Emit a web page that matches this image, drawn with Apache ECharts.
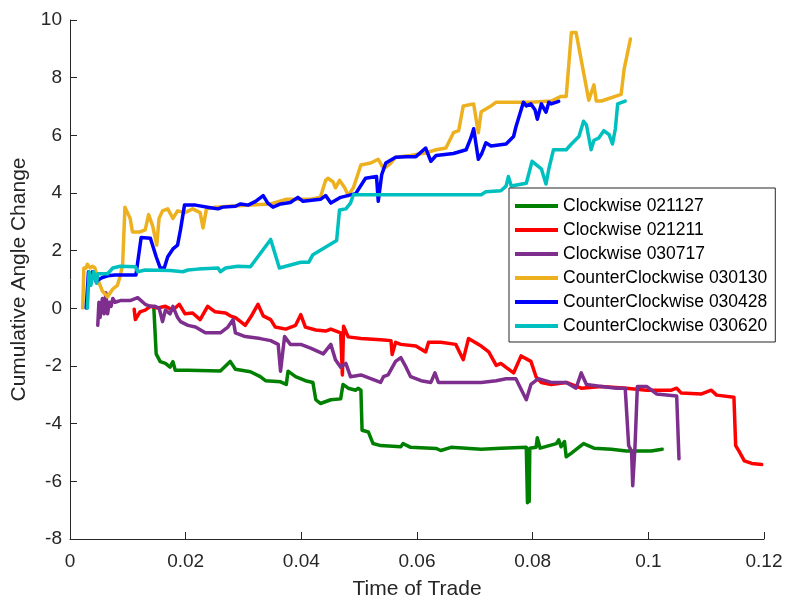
<!DOCTYPE html>
<html>
<head>
<meta charset="utf-8">
<script src="https://cdn.jsdelivr.net/npm/echarts@6/dist/echarts.min.js"></script>
<style>html,body{margin:0;padding:0;background:#fff}#c{width:787px;height:601px}</style>
</head>
<body>
<div id="c"></div>
<script>
const seriesNames = ['Clockwise 021127','Clockwise 021211','Clockwise 030717','CounterClockwise 030130','CounterClockwise 030428','CounterClockwise 030620'];
const xTicks = [0, 0.02, 0.04, 0.06, 0.08, 0.1, 0.12];
const yTicks = [-8, -6, -4, -2, 0, 2, 4, 6, 8, 10];

const cw021127 = [[0.0145,0.0],[0.0149,-1.58],[0.0156,-1.85],[0.0165,-1.91],[0.0173,-2.04],[0.0178,-1.85],[0.0182,-2.15],[0.0204,-2.15],[0.0260,-2.17],[0.0277,-1.84],[0.0286,-2.11],[0.0312,-2.2],[0.0329,-2.37],[0.0338,-2.51],[0.0364,-2.55],[0.0374,-2.64],[0.0377,-2.18],[0.0390,-2.37],[0.0407,-2.51],[0.0420,-2.57],[0.0425,-3.17],[0.0433,-3.3],[0.0451,-3.17],[0.0468,-3.14],[0.0472,-2.64],[0.0481,-2.77],[0.0494,-2.84],[0.0498,-2.77],[0.0503,-2.84],[0.0505,-4.23],[0.0516,-4.29],[0.0524,-4.69],[0.0537,-4.76],[0.0572,-4.8],[0.0576,-4.69],[0.0589,-4.82],[0.0633,-4.86],[0.0641,-4.93],[0.0659,-4.82],[0.0711,-4.89],[0.0745,-4.85],[0.0789,-4.82],[0.0791,-6.74],[0.0793,-4.9],[0.0794,-6.7],[0.0795,-4.85],[0.0806,-4.82],[0.0808,-4.49],[0.0813,-4.85],[0.0841,-4.69],[0.0845,-4.56],[0.0849,-4.8],[0.0855,-4.62],[0.0858,-5.15],[0.0867,-5.02],[0.0888,-4.69],[0.0906,-4.85],[0.0936,-4.89],[0.0962,-4.95],[0.1005,-4.95],[0.1024,-4.89]];

const cw021211 = [[0.0111,-0.03],[0.0113,-0.39],[0.0121,-0.12],[0.0130,-0.06],[0.0139,0.07],[0.0152,0.01],[0.0165,0.07],[0.0178,-0.06],[0.0189,0.14],[0.0199,-0.19],[0.0212,-0.16],[0.0225,-0.39],[0.0238,0.07],[0.0251,-0.12],[0.0269,-0.16],[0.0277,-0.26],[0.0286,-0.32],[0.0295,-0.46],[0.0303,-0.59],[0.0312,-0.32],[0.0325,0.14],[0.0334,-0.26],[0.0347,-0.39],[0.0355,-0.65],[0.0373,-0.72],[0.0390,-0.59],[0.0399,-0.22],[0.0407,-0.65],[0.0425,-0.75],[0.0442,-0.79],[0.0451,-0.72],[0.0468,-0.85],[0.0471,-2.31],[0.0473,-0.62],[0.0481,-0.99],[0.0503,-1.05],[0.0537,-1.09],[0.0555,-1.12],[0.0557,-1.6],[0.0563,-1.18],[0.0572,-1.25],[0.0598,-1.31],[0.0615,-1.51],[0.0620,-1.18],[0.0641,-1.18],[0.0667,-1.25],[0.0680,-1.78],[0.0689,-1.05],[0.0711,-1.31],[0.0724,-1.51],[0.0737,-1.98],[0.0745,-1.91],[0.0754,-2.05],[0.0767,-2.24],[0.0780,-1.65],[0.0797,-1.84],[0.0806,-2.38],[0.0815,-2.57],[0.0832,-2.64],[0.0858,-2.57],[0.0884,-2.77],[0.0919,-2.71],[0.0962,-2.77],[0.0997,-2.84],[0.1040,-2.84],[0.1049,-2.77],[0.1057,-2.94],[0.1092,-2.97],[0.1109,-2.84],[0.1118,-3.01],[0.1148,-3.08],[0.1151,-4.76],[0.1157,-4.96],[0.1166,-5.29],[0.1179,-5.38],[0.1196,-5.42]];

const cw030717 = [[0.0048,-0.59],[0.0050,0.21],[0.0052,-0.32],[0.0056,0.34],[0.0059,-0.19],[0.0062,0.54],[0.0065,-0.19],[0.0068,0.21],[0.0071,0.07],[0.0074,0.34],[0.0078,0.21],[0.0087,0.27],[0.0104,0.27],[0.0117,0.37],[0.0130,0.14],[0.0139,0.07],[0.0147,0.07],[0.0154,0.01],[0.0160,-0.46],[0.0165,-0.06],[0.0173,-0.19],[0.0178,0.07],[0.0186,-0.32],[0.0191,-0.46],[0.0204,-0.59],[0.0217,-0.65],[0.0234,-0.85],[0.0260,-0.85],[0.0273,-0.65],[0.0282,-0.39],[0.0286,-0.85],[0.0303,-0.98],[0.0329,-1.05],[0.0347,-1.12],[0.0360,-1.25],[0.0364,-2.18],[0.0371,-0.98],[0.0381,-1.25],[0.0399,-1.25],[0.0416,-1.38],[0.0438,-1.58],[0.0451,-1.25],[0.0459,-1.78],[0.0468,-2.04],[0.0477,-1.91],[0.0485,-2.37],[0.0503,-2.31],[0.0520,-2.44],[0.0537,-2.57],[0.0542,-2.37],[0.0550,-2.31],[0.0563,-1.84],[0.0572,-1.71],[0.0581,-2.04],[0.0589,-2.37],[0.0607,-2.51],[0.0624,-2.57],[0.0631,-2.24],[0.0637,-2.57],[0.0659,-2.57],[0.0711,-2.57],[0.0737,-2.51],[0.0754,-2.44],[0.0771,-2.44],[0.0789,-3.17],[0.0797,-2.64],[0.0810,-2.44],[0.0832,-2.57],[0.0858,-2.57],[0.0875,-2.77],[0.0884,-2.24],[0.0893,-2.64],[0.0919,-2.71],[0.0945,-2.77],[0.0960,-2.77],[0.0966,-4.76],[0.0971,-4.96],[0.0973,-6.15],[0.0977,-4.76],[0.0981,-2.71],[0.0997,-2.71],[0.1014,-2.97],[0.1049,-3.04],[0.1053,-5.22]];

const ccw030130 = [[0.0022,0.01],[0.0024,1.40],[0.0028,1.40],[0.0030,1.53],[0.0035,1.40],[0.0039,1.46],[0.0043,1.40],[0.0048,1.0],[0.0056,0.6],[0.0065,0.4],[0.0074,0.67],[0.0082,0.8],[0.0087,1.13],[0.0091,1.53],[0.0095,3.51],[0.0104,3.12],[0.0108,2.65],[0.0121,2.65],[0.0130,2.72],[0.0136,3.25],[0.0143,2.85],[0.0150,2.19],[0.0154,3.12],[0.0160,3.38],[0.0169,3.45],[0.0178,3.12],[0.0186,3.38],[0.0199,3.32],[0.0212,3.45],[0.0225,3.32],[0.0230,2.79],[0.0236,3.45],[0.0251,3.51],[0.0277,3.54],[0.0312,3.58],[0.0347,3.62],[0.0373,3.78],[0.0399,3.78],[0.0416,3.78],[0.0433,3.85],[0.0442,4.44],[0.0446,4.51],[0.0455,4.38],[0.0459,4.18],[0.0466,4.44],[0.0475,4.18],[0.0481,3.91],[0.0490,4.18],[0.0503,4.97],[0.0520,5.04],[0.0533,5.17],[0.0542,4.84],[0.0555,5.04],[0.0563,5.24],[0.0589,5.30],[0.0615,5.39],[0.0633,5.50],[0.0650,5.56],[0.0663,6.09],[0.0672,6.16],[0.0680,7.02],[0.0698,7.09],[0.0706,6.09],[0.0711,6.82],[0.0728,7.02],[0.0737,7.15],[0.0763,7.15],[0.0797,7.15],[0.0832,7.19],[0.0849,7.35],[0.0858,7.35],[0.0867,9.57],[0.0875,9.57],[0.0897,7.22],[0.0906,7.75],[0.0910,7.19],[0.0919,7.19],[0.0953,7.42],[0.0958,8.28],[0.0969,9.34]];

const ccw030428 = [[0.0028,0.01],[0.0032,1.27],[0.0035,0.87],[0.0039,1.27],[0.0045,0.93],[0.0050,1.0],[0.0056,1.07],[0.0065,1.13],[0.0078,1.16],[0.0114,1.16],[0.0123,2.46],[0.0139,2.43],[0.0149,1.79],[0.0156,1.40],[0.0163,1.40],[0.0169,1.79],[0.0178,2.06],[0.0186,2.19],[0.0191,2.72],[0.0198,3.58],[0.0217,3.58],[0.0243,3.49],[0.0256,3.45],[0.0264,3.51],[0.0286,3.54],[0.0295,3.62],[0.0308,3.58],[0.0321,3.71],[0.0334,3.91],[0.0342,3.65],[0.0351,3.51],[0.0364,3.62],[0.0381,3.67],[0.0394,3.85],[0.0403,3.71],[0.0433,3.78],[0.0442,3.91],[0.0451,3.65],[0.0468,3.85],[0.0494,3.98],[0.0511,4.51],[0.0530,4.57],[0.0533,3.71],[0.0539,4.64],[0.0546,5.04],[0.0563,5.24],[0.0581,5.26],[0.0598,5.26],[0.0615,5.56],[0.0624,5.10],[0.0633,5.30],[0.0663,5.37],[0.0685,5.50],[0.0693,5.90],[0.0698,6.23],[0.0706,5.17],[0.0712,5.37],[0.0719,5.74],[0.0728,5.63],[0.0754,5.70],[0.0767,5.96],[0.0771,6.29],[0.0784,7.15],[0.0789,7.02],[0.0797,7.09],[0.0804,6.89],[0.0808,6.56],[0.0815,7.09],[0.0823,6.80],[0.0828,7.15],[0.0832,7.09],[0.0845,7.18]];

const ccw030620 = [[0.0030,0.01],[0.0033,1.27],[0.0036,0.80],[0.0041,1.27],[0.0046,0.87],[0.0048,1.20],[0.0065,1.20],[0.0074,1.40],[0.0087,1.46],[0.0113,1.44],[0.0117,1.27],[0.0130,1.33],[0.0173,1.31],[0.0195,1.27],[0.0204,1.33],[0.0221,1.36],[0.0256,1.40],[0.0260,1.27],[0.0269,1.40],[0.0290,1.46],[0.0312,1.44],[0.0347,2.39],[0.0362,1.40],[0.0399,1.60],[0.0413,1.60],[0.0420,1.86],[0.0461,2.35],[0.0466,3.41],[0.0477,3.45],[0.0485,3.65],[0.0490,3.94],[0.0711,3.94],[0.0719,4.04],[0.0745,4.08],[0.0754,4.24],[0.0758,4.57],[0.0763,4.24],[0.0789,4.34],[0.0799,5.10],[0.0815,4.84],[0.0823,4.31],[0.0828,4.84],[0.0836,5.50],[0.0858,5.50],[0.0867,5.70],[0.0880,5.96],[0.0888,6.49],[0.0893,6.36],[0.0901,5.50],[0.0906,5.83],[0.0914,5.90],[0.0923,6.16],[0.0932,6.03],[0.0938,5.70],[0.0943,6.23],[0.0947,7.09],[0.0960,7.19]];

const seriesData = [cw021127, cw021211, cw030717, ccw030130, ccw030428, ccw030620];
const colors = ['#008000', '#ff0000', '#7e2f8e', '#edb120', '#0000ff', '#00bfbf'];

const font = '"Liberation Sans", Arial, Helvetica, sans-serif';
const axisColor = '#262626';

const chart = echarts.init(document.getElementById('c'), null, {renderer: 'canvas'});
chart.setOption({
  animation: false,
  backgroundColor: '#ffffff',
  color: colors,
  grid: {left: 70, right: 23, top: 20, bottom: 62, containLabel: false, outerBoundsMode: 'none'},
  legend: {
    orient: 'vertical',
    left: 509, top: 188,
    padding: [6, 8, 4, 6],
    itemGap: 0,
    itemWidth: 43, itemHeight: 4,
    icon: 'rect',
    backgroundColor: '#ffffff',
    borderColor: axisColor, borderWidth: 1,
    textStyle: {fontFamily: font, fontSize: 17.5, color: '#000000', lineHeight: 24, padding: [0, 0, 0, 0]},
    data: seriesNames
  },
  xAxis: {
    type: 'value', min: 0, max: 0.12, interval: 0.02,
    name: 'Time of Trade', nameLocation: 'middle', nameGap: 40,
    nameTextStyle: {fontFamily: font, fontSize: 21, color: axisColor},
    axisLine: {show: true, onZero: false, lineStyle: {color: axisColor, width: 1}},
    axisTick: {show: true, inside: true, length: 7, lineStyle: {color: axisColor}},
    axisLabel: {fontFamily: font, fontSize: 19, color: axisColor, margin: 13,
      formatter: function (v) { return xTicks.indexOf(Math.round(v * 100) / 100) >= 0 ? String(Math.round(v * 100) / 100) : ''; }},
    splitLine: {show: false}
  },
  yAxis: {
    type: 'value', min: -8, max: 10, interval: 2,
    name: 'Cumulative Angle Change', nameLocation: 'middle', nameGap: 37, nameRotate: 90,
    nameTextStyle: {fontFamily: font, fontSize: 21, color: axisColor},
    axisLine: {show: true, onZero: false, lineStyle: {color: axisColor, width: 1}},
    axisTick: {show: true, inside: true, length: 7, lineStyle: {color: axisColor}},
    axisLabel: {fontFamily: font, fontSize: 19, color: axisColor, margin: 8,
      formatter: function (v) { return yTicks.indexOf(v) >= 0 ? String(v) : ''; }},
    splitLine: {show: false}
  },
  series: seriesNames.map(function (n, i) {
    return {
      name: n, type: 'line', data: seriesData[i],
      symbol: 'none', showSymbol: false, smooth: false,
      lineStyle: {width: 3.5, color: colors[i], join: 'round', cap: 'round'},
      itemStyle: {color: colors[i]},
      emphasis: {disabled: true}
    };
  })
});
</script>
</body>
</html>
